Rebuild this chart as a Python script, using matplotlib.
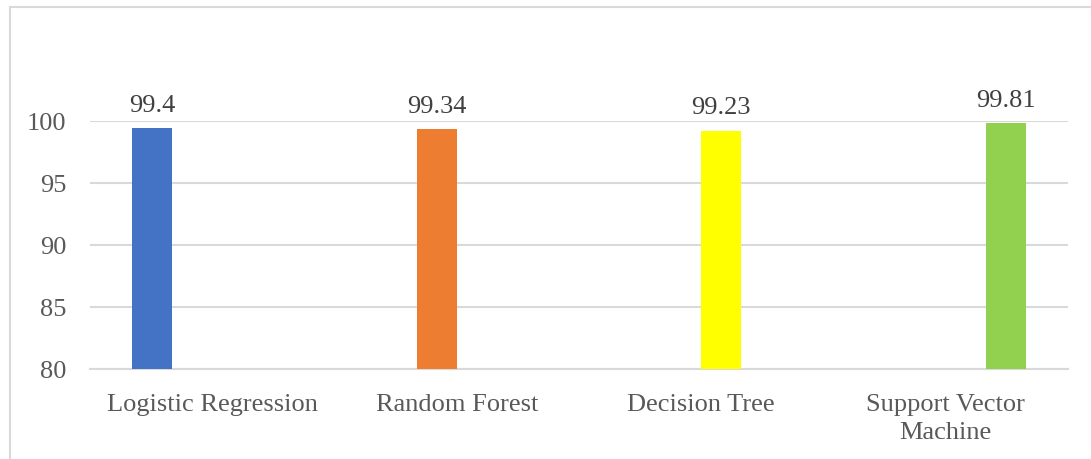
import matplotlib
matplotlib.use("Agg")
import matplotlib.pyplot as plt
from matplotlib.lines import Line2D
import numpy as np

# Model accuracies (%)
models = ["Logistic Regression", "Random Forest", "Decision Tree", "Support Vector\nMachine"]
accuracy = [99.4, 99.34, 99.23, 99.81]
colors = ["#4472C4", "#ED7D31", "#FFFF00", "#92D050"]
y_ticks = [80, 85, 90, 95, 100]

W, H, DPI = 1091, 460, 100
plt.rcParams["font.family"] = ["Liberation Serif", "DejaVu Serif"]
text_color = "#595959"
grid_color = "#D9D9D9"

fig = plt.figure(figsize=(W / DPI, H / DPI), dpi=DPI)
fig.patch.set_facecolor("white")

# chart area outline (top and left edges visible)
fig.add_artist(Line2D([10 / W, 10 / W], [0, 1 - 8 / H], transform=fig.transFigure,
                      color=grid_color, lw=1.5))
fig.add_artist(Line2D([10 / W, 1], [1 - 8 / H, 1 - 8 / H], transform=fig.transFigure,
                      color=grid_color, lw=1.5))

left, right = 90 / W, 1068 / W
bottom, top = (H - 370) / H, (H - 122) / H
ax = fig.add_axes([left, bottom, right - left, top - bottom])

n = len(models)
x = np.arange(n)
width = 40 / ((1068 - 90) / n)

# one series per model, each in its own slot within the cluster
for i, (val, col) in enumerate(zip(accuracy, colors)):
    xpos = x[i] + (i - (n - 1) / 2) * width
    ax.bar(xpos, val - 80, bottom=80, width=width, color=col, zorder=3)
    ax.annotate(f"{val:g}", xy=(xpos, val), xytext=(0, 9), textcoords="offset points",
                ha="center", va="bottom", fontsize=19, color="#404040",
                annotation_clip=False)

ax.set_xlim(-0.5, n - 0.5)
ax.set_ylim(80, 100)
ax.set_yticks(y_ticks)
ax.set_yticklabels([str(t) for t in y_ticks])
ax.set_xticks(x)
ax.set_xticklabels(models, linespacing=1.35)
ax.tick_params(axis="y", length=0, pad=17, labelsize=19, labelcolor=text_color)
ax.tick_params(axis="x", length=0, pad=17, labelsize=19, labelcolor=text_color)

ax.grid(axis="y", color=grid_color, lw=1.5, zorder=0)
ax.set_axisbelow(True)
for s in ["top", "right", "left"]:
    ax.spines[s].set_visible(False)
ax.spines["bottom"].set_color(grid_color)
ax.spines["bottom"].set_linewidth(1.5)
ax.set_facecolor("none")

fig.savefig("out.png", dpi=DPI)
